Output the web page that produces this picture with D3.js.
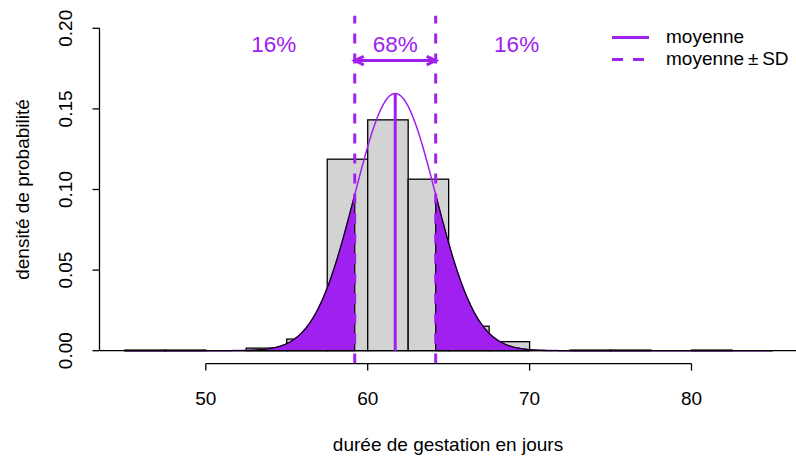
<!DOCTYPE html>
<html>
<head>
<meta charset="utf-8">
<script src="https://cdn.jsdelivr.net/npm/d3@7"></script>
<style>
  body { margin: 0; background: #fff; }
  svg { display: block; }
  text { font-family: "Liberation Sans", Arial, Helvetica, sans-serif; }
</style>
</head>
<body>
<svg id="chart" width="796" height="456"></svg>
<script>
// Histogram of gestation length (days), 2.5-day bins, density scale
const binEdges = [45, 47.5, 50, 52.5, 55, 57.5, 60, 62.5, 65, 67.5, 70, 72.5, 75, 77.5, 80, 82.5, 85];
const binDensity = [0.0004, 0.0004, 0, 0.0016, 0.0072, 0.1188, 0.1432, 0.1064, 0.0152, 0.0056, 0, 0.0004, 0.0004, 0, 0.0004, 0];

// Fitted normal distribution
const meanDays = 61.7;
const sdDays = 2.5;

// Axes
const xTicks = [50, 60, 70, 80];
const yTicks = [0, 0.05, 0.10, 0.15, 0.20];
const yTickLabels = ["0.00", "0.05", "0.10", "0.15", "0.20"];
const xTitle = "durée de gestation en jours";
const yTitle = "densité de probabilité";

// Annotations
const pctLabels = ["16%", "68%", "16%"];
const legendLabels = ["moyenne", "moyenne\u2009±\u2009SD"];

const PURPLE = "#A020F0";
const FS = 19;
const svg = d3.select("#chart");

const x = d3.scaleLinear().domain([45, 85]).range([124.85, 772.45]);
const y = d3.scaleLinear().domain([0, 0.2]).range([350.7, 28.3]);

// plot region (axis ranges padded by 4%)
const region = { x0: 100, x1: 796, y0: y(0.208), y1: y(-0.008) };

svg.append("clipPath").attr("id", "plotclip")
  .append("rect")
  .attr("x", region.x0).attr("y", region.y0)
  .attr("width", region.x1 - region.x0).attr("height", region.y1 - region.y0);

const plot = svg.append("g").attr("clip-path", "url(#plotclip)");

// histogram bars
const bins = binDensity.map((d, i) => ({ x0: binEdges[i], x1: binEdges[i + 1], d }));
plot.selectAll("rect.bar")
  .data(bins.filter(b => b.d > 0))
  .join("rect")
  .attr("class", "bar")
  .attr("x", b => x(b.x0))
  .attr("width", b => x(b.x1) - x(b.x0))
  .attr("y", b => y(b.d))
  .attr("height", b => y(0) - y(b.d))
  .attr("fill", "#D3D3D3")
  .attr("stroke", "#000")
  .attr("stroke-width", 1.3);

// normal density
const dnorm = v => Math.exp(-0.5 * ((v - meanDays) / sdDays) ** 2) / (sdDays * Math.sqrt(2 * Math.PI));
const grid = d3.range(0, 401).map(i => 45 + i * 0.1);
const line = d3.line().x(v => x(v)).y(v => y(dnorm(v)));

plot.append("path")
  .attr("d", line(grid))
  .attr("fill", "none")
  .attr("stroke", PURPLE)
  .attr("stroke-width", 1.5);

// shaded tails beyond mean ± SD
function tail(a, b) {
  const pts = grid.filter(v => v >= a && v <= b);
  if (pts[0] > a) pts.unshift(a);
  if (pts[pts.length - 1] < b) pts.push(b);
  const poly = pts.map(v => [x(v), y(dnorm(v))]);
  poly.push([x(b), y(0)], [x(a), y(0)]);
  return "M" + poly.map(p => p.join(",")).join("L") + "Z";
}
[[45, meanDays - sdDays], [meanDays + sdDays, 85]].forEach(([a, b]) => {
  plot.append("path")
    .attr("d", tail(a, b))
    .attr("fill", PURPLE)
    .attr("stroke", "#000")
    .attr("stroke-width", 1.2)
    .attr("stroke-linejoin", "round");
});

// zero line
plot.append("line")
  .attr("x1", region.x0).attr("x2", region.x1)
  .attr("y1", y(0)).attr("y2", y(0))
  .attr("stroke", "#000").attr("stroke-width", 1.3);

// mean
plot.append("line")
  .attr("x1", x(meanDays)).attr("x2", x(meanDays))
  .attr("y1", y(0)).attr("y2", y(dnorm(meanDays)))
  .attr("stroke", PURPLE).attr("stroke-width", 3);

// mean ± SD
[meanDays - sdDays, meanDays + sdDays].forEach(v => {
  plot.append("line")
    .attr("x1", x(v)).attr("x2", x(v))
    .attr("y1", region.y1).attr("y2", region.y0)
    .attr("stroke", PURPLE).attr("stroke-width", 3)
    .attr("stroke-dasharray", "10,10");
});

// double arrow spanning mean ± SD
const ay = y(0.18), ax0 = x(meanDays - sdDays), ax1 = x(meanDays + sdDays);
const hl = 10, ha = 25 * Math.PI / 180;
const arrowPath = [
  `M${ax0},${ay}L${ax1},${ay}`,
  `M${ax0 + hl * Math.cos(ha)},${ay - hl * Math.sin(ha)}L${ax0},${ay}L${ax0 + hl * Math.cos(ha)},${ay + hl * Math.sin(ha)}`,
  `M${ax1 - hl * Math.cos(ha)},${ay - hl * Math.sin(ha)}L${ax1},${ay}L${ax1 - hl * Math.cos(ha)},${ay + hl * Math.sin(ha)}`
].join("");
plot.append("path")
  .attr("d", arrowPath)
  .attr("fill", "none")
  .attr("stroke", PURPLE).attr("stroke-width", 3)
  .attr("stroke-linecap", "butt").attr("stroke-linejoin", "miter");

// percentage labels
const pctX = [meanDays - 3 * sdDays, meanDays, meanDays + 3 * sdDays];
svg.selectAll("text.pct")
  .data(pctLabels)
  .join("text")
  .attr("class", "pct")
  .attr("x", (d, i) => x(pctX[i]))
  .attr("y", y(0.19) + 7.5)
  .attr("text-anchor", "middle")
  .attr("font-size", 22.5)
  .attr("fill", PURPLE)
  .text(d => d);

// x axis
const xa = svg.append("g");
xa.append("line")
  .attr("x1", x(xTicks[0])).attr("x2", x(xTicks[xTicks.length - 1]))
  .attr("y1", region.y1).attr("y2", region.y1)
  .attr("stroke", "#000").attr("stroke-width", 1.3);
xa.selectAll("line.tick").data(xTicks).join("line")
  .attr("class", "tick")
  .attr("x1", d => x(d)).attr("x2", d => x(d))
  .attr("y1", region.y1).attr("y2", region.y1 + 7)
  .attr("stroke", "#000").attr("stroke-width", 1.3);
xa.selectAll("text").data(xTicks).join("text")
  .attr("x", d => x(d)).attr("y", 404.5)
  .attr("text-anchor", "middle")
  .attr("font-size", FS)
  .text(d => d);
svg.append("text")
  .attr("x", (region.x0 + region.x1) / 2).attr("y", 450.5)
  .attr("text-anchor", "middle")
  .attr("font-size", FS)
  .text(xTitle);

// y axis
const ya = svg.append("g");
ya.append("line")
  .attr("x1", region.x0 - 0.5).attr("x2", region.x0 - 0.5)
  .attr("y1", y(yTicks[0])).attr("y2", y(yTicks[yTicks.length - 1]))
  .attr("stroke", "#000").attr("stroke-width", 1.3);
ya.selectAll("line.tick").data(yTicks).join("line")
  .attr("class", "tick")
  .attr("x1", region.x0 - 0.5).attr("x2", region.x0 - 7.5)
  .attr("y1", d => y(d)).attr("y2", d => y(d))
  .attr("stroke", "#000").attr("stroke-width", 1.3);
ya.selectAll("text").data(yTicks).join("text")
  .attr("transform", d => `translate(71.5,${y(d)}) rotate(-90)`)
  .attr("text-anchor", "middle")
  .attr("font-size", FS)
  .text((d, i) => yTickLabels[i]);
svg.append("text")
  .attr("transform", `translate(28.5,${(region.y0 + region.y1) / 2}) rotate(-90)`)
  .attr("text-anchor", "middle")
  .attr("font-size", FS)
  .text(yTitle);

// legend
const lg = svg.append("g");
const rowY = [37.5, 59.5];
legendLabels.forEach((lab, i) => {
  lg.append("line")
    .attr("x1", 612).attr("x2", 649)
    .attr("y1", rowY[i]).attr("y2", rowY[i])
    .attr("stroke", PURPLE).attr("stroke-width", 3)
    .attr("stroke-dasharray", i === 1 ? "11,10" : null);
  lg.append("text")
    .attr("x", 666).attr("y", rowY[i] + 5.5)
    .attr("font-size", FS)
    .text(lab);
});
</script>
</body>
</html>
